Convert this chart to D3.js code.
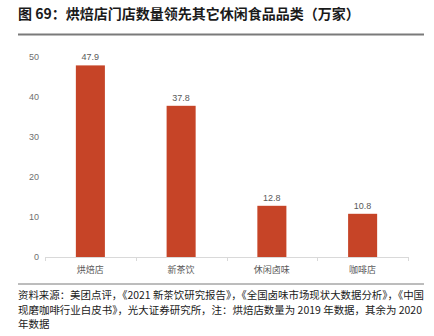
<!DOCTYPE html>
<html><head><meta charset="utf-8">
<script src="https://cdn.jsdelivr.net/npm/d3@7/dist/d3.min.js"></script>
<style>body{margin:0;background:#fff;}svg{display:block;}</style>
</head><body>
<svg id="c" width="434" height="336"></svg>
<script>
const categories = ["烘焙店", "新茶饮", "休闲卤味", "咖啡店"];
const values = [47.9, 37.8, 12.8, 10.8];
const yTicks = [0, 10, 20, 30, 40, 50];
const titleText = "图 69：烘焙店门店数量领先其它休闲食品品类（万家）";
const sourceLines = [
  "资料来源：美团点评，《2021 新茶饮研究报告》，《全国卤味市场现状大数据分析》，《中国",
  "现磨咖啡行业白皮书》，光大证券研究所，注：烘焙店数量为 2019 年数据，其余为 2020",
  "年数据"
];

const svg = d3.select("#c");
const font = "'Noto Sans CJK SC', 'Noto Sans', sans-serif";

svg.append("text").attr("x", 18).attr("y", 19)
  .attr("font-family", font).attr("font-size", 14).attr("font-weight", 700)
  .attr("fill", "#1a1a1a").text(titleText);
svg.append("line").attr("x1", 18).attr("x2", 424).attr("y1", 34.5).attr("y2", 34.5)
  .attr("stroke", "#7a7a7a").attr("stroke-width", 2);

const x = d3.scaleBand().domain(categories).range([45, 408]).paddingInner(0.68).paddingOuter(0.34);
const y = d3.scaleLinear().domain([0, 50]).range([257, 57]);

const bounds = d3.range(categories.length + 1).map(i => 45 + i * (363 / categories.length));
svg.append("line").attr("x1", 45).attr("x2", 408).attr("y1", 257.5).attr("y2", 257.5)
  .attr("stroke", "#d9d9d9").attr("stroke-width", 1);
svg.selectAll("line.tk").data(bounds).join("line").attr("class", "tk")
  .attr("x1", d => Math.round(d) + 0.5).attr("x2", d => Math.round(d) + 0.5)
  .attr("y1", 257).attr("y2", 261).attr("stroke", "#d9d9d9");

const yAxis = d3.axisLeft(y).tickValues(yTicks).tickSize(0).tickPadding(0);
const ya = svg.append("g").attr("transform", "translate(39,0)").call(yAxis);
ya.select(".domain").remove();
ya.selectAll("text").attr("font-family", "'Liberation Sans', Arial, sans-serif").attr("font-size", 9).attr("fill", "#6f6f6f");

svg.selectAll("rect.bar").data(values).join("rect").attr("class", "bar")
  .attr("x", (d, i) => x(categories[i])).attr("width", x.bandwidth())
  .attr("y", d => y(d)).attr("height", d => y(0) - y(d)).attr("fill", "#c64427");

svg.selectAll("text.val").data(values).join("text").attr("class", "val")
  .attr("x", (d, i) => x(categories[i]) + x.bandwidth() / 2).attr("y", d => y(d) - 5)
  .attr("text-anchor", "middle").attr("font-family", "'Liberation Sans', Arial, sans-serif")
  .attr("font-size", 9).attr("fill", "#595959").text(d => d.toFixed(1));

svg.selectAll("text.cat").data(categories).join("text").attr("class", "cat")
  .attr("x", d => x(d) + x.bandwidth() / 2).attr("y", 273)
  .attr("text-anchor", "middle").attr("font-family", font)
  .attr("font-size", 9).attr("fill", "#595959").text(d => d);

svg.append("line").attr("x1", 18).attr("x2", 424).attr("y1", 284).attr("y2", 284)
  .attr("stroke", "#7a7a7a").attr("stroke-width", 1);
svg.selectAll("text.src").data(sourceLines).join("text").attr("class", "src")
  .attr("x", 18).attr("y", (d, i) => 299 + i * 14.5)
  .attr("font-family", font).attr("font-size", 10.5).attr("fill", "#1a1a1a")
  .each(function (d, i) {
    const t = d3.select(this).text(d);
    if (i < 2) t.attr("textLength", i === 0 ? 406 : 404).attr("lengthAdjust", "spacingAndGlyphs");
  });
</script>
</body></html>
